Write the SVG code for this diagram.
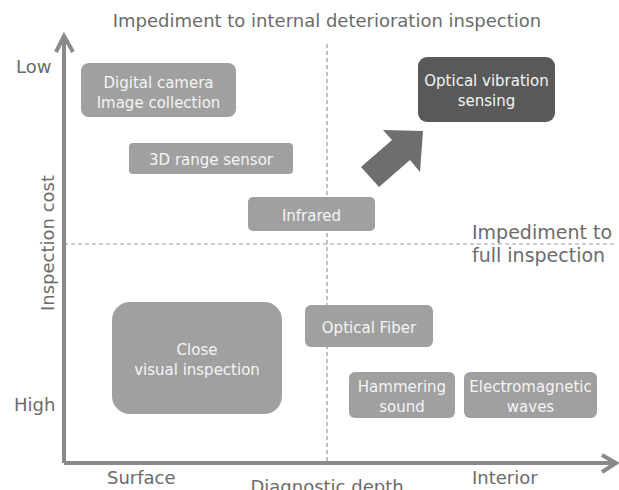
<svg xmlns="http://www.w3.org/2000/svg" width="619" height="490" viewBox="0 0 619 490">
<style>
.lbl{font-family:"DejaVu Sans",Verdana,sans-serif;fill:#6b6b6b;font-size:18px;}
.box{fill:#a0a0a0;}
.bt{font-family:"DejaVu Sans",Verdana,sans-serif;font-size:15px;fill:#f4f4f4;text-anchor:middle;}
.axis{stroke:#8a8a8a;stroke-width:4;fill:none;}
.dash{stroke:#999;stroke-width:1.2;stroke-dasharray:4,3;fill:none;}
</style>
<rect width="619" height="490" fill="#fff"/>
<g id="connectors">
<line class="dash" x1="327" y1="44" x2="327" y2="463"/>
<line class="dash" x1="64" y1="244" x2="615" y2="244"/>
<polyline class="axis" points="64,463 64,37"/>
<polyline class="axis" points="56,52 64,36 73,52"/>
<polyline class="axis" points="64,463 616,463"/>
<polyline class="axis" points="602,455 616,463 602,472"/>
<polygon id="bigarrow" points="383,130 423,131 420,172 410,160 379,187 361,167 392,140" fill="#6e6e6e"/>
</g>
<text class="lbl" x="327" y="27" text-anchor="middle">Impediment to internal deterioration inspection</text>
<text class="lbl" x="16" y="73">Low</text>
<text class="lbl" x="14" y="411">High</text>
<text class="lbl" x="0" y="0" text-anchor="middle" transform="translate(54,243) rotate(-90)">Inspection cost</text>
<text class="lbl" x="472" y="239" font-size="19px" style="font-size:19px">Impediment to</text>
<text class="lbl" x="472" y="262" style="font-size:19px">full inspection</text>
<text class="lbl" x="107" y="484">Surface</text>
<text class="lbl" x="327" y="493" text-anchor="middle">Diagnostic depth</text>
<text class="lbl" x="472" y="484">Interior</text>
<g id="digital-camera">
<rect class="box" x="81" y="63" width="155" height="54" rx="8"/>
<text class="bt" x="158.5" y="88">Digital camera</text>
<text class="bt" x="158.5" y="108">Image collection</text>
</g>
<g id="optical-vibration">
<rect x="418" y="57" width="137" height="65" rx="9" fill="#595959"/>
<text class="bt" x="486.5" y="86">Optical vibration</text>
<text class="bt" x="486.5" y="106">sensing</text>
</g>
<g id="range-sensor">
<rect class="box" x="129" y="143" width="164" height="31" rx="4"/>
<text class="bt" x="211" y="165">3D range sensor</text>
</g>
<g id="infrared">
<rect class="box" x="248" y="197" width="127" height="34" rx="5"/>
<text class="bt" x="311.5" y="221">Infrared</text>
</g>
<g id="close-visual">
<rect class="box" x="112" y="302" width="170" height="112" rx="18"/>
<text class="bt" x="197" y="355">Close</text>
<text class="bt" x="197" y="375">visual inspection</text>
</g>
<g id="optical-fiber">
<rect class="box" x="305" y="305" width="128" height="42" rx="6"/>
<text class="bt" x="369" y="333">Optical Fiber</text>
</g>
<g id="hammering">
<rect class="box" x="349" y="372" width="106" height="46" rx="6"/>
<text class="bt" x="402" y="392">Hammering</text>
<text class="bt" x="402" y="412">sound</text>
</g>
<g id="electromagnetic">
<rect class="box" x="464" y="372" width="133" height="46" rx="6"/>
<text class="bt" x="530.5" y="392">Electromagnetic</text>
<text class="bt" x="530.5" y="412">waves</text>
</g>
</svg>
